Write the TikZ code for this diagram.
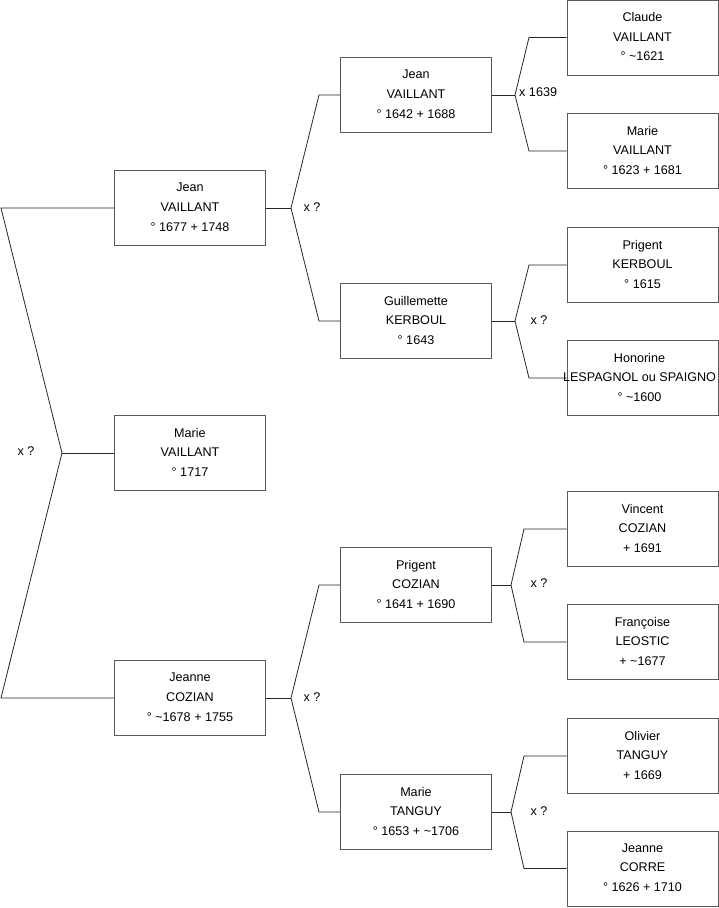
\documentclass[tikz,border=0pt]{standalone}
\usepackage{fontspec}
\setmainfont{Liberation Sans}
\begin{document}
\begin{tikzpicture}[x=1pt,y=-1pt,
  box/.style={draw=black!65, line width=1pt, minimum width=151pt, minimum height=75pt, inner sep=0pt},
  txt/.style={align=center, font=\fontsize{12.6}{19.6}\selectfont, inner sep=0pt},
  link/.style={draw=black!85, line width=0.8pt},
  lab/.style={font=\fontsize{12.6}{15}\selectfont, inner sep=0pt}]
\useasboundingbox (0,0) rectangle (719,908);
\fill[white] (0,0) rectangle (719,908);

% boxes (shapes only)
\node[box] (jean1) at (190,208) {};
\node[box] (marie1) at (190,453) {};
\node[box] (jeanne1) at (190,698) {};
\node[box] (jean2) at (416,95) {};
\node[box] (guil) at (416,321) {};
\node[box] (prigent2) at (416,585) {};
\node[box] (marieT) at (416,812) {};
\node[box] (claude) at (642.5,37.5) {};
\node[box] (marieV) at (642.5,151) {};
\node[box] (prigentK) at (642.5,265) {};
\node[box] (honorine) at (642.5,378) {};
\node[box] (vincent) at (642.5,529) {};
\node[box] (francoise) at (642.5,642) {};
\node[box] (olivier) at (642.5,756) {};
\node[box] (jeanneC) at (642.5,868.5) {};

% junction coordinates
\coordinate (lt) at (1,208);
\coordinate (lm) at (62,453);
\coordinate (lb) at (1,698);
\coordinate (a) at (291,208);
\coordinate (b) at (291,698);
\coordinate (c) at (515,95);
\coordinate (d) at (515,321);
\coordinate (e) at (511,585);
\coordinate (f) at (511,812);

% connectors
\draw[link] (jean1.west) -- (lt) -- (lm) -- (lb) -- (jeanne1.west);
\draw[link] (lm) -- (marie1.west);

\draw[link] (jean1.east) -- (a);
\draw[link] (jean2.west) -- (jean2.west -| 319,0) -- (a) -- (guil.west -| 319,0) -- (guil.west);
\draw[link] (jeanne1.east) -- (b);
\draw[link] (prigent2.west) -- (prigent2.west -| 319,0) -- (b) -- (marieT.west -| 319,0) -- (marieT.west);

\draw[link] (jean2.east) -- (c);
\draw[link] (claude.west) -- (claude.west -| 529,0) -- (c) -- (marieV.west -| 529,0) -- (marieV.west);
\draw[link] (guil.east) -- (d);
\draw[link] (prigentK.west) -- (prigentK.west -| 529,0) -- (d) -- (honorine.west -| 529,0) -- (honorine.west);
\draw[link] (prigent2.east) -- (e);
\draw[link] (vincent.west) -- (vincent.west -| 524,0) -- (e) -- (francoise.west -| 524,0) -- (francoise.west);
\draw[link] (marieT.east) -- (f);
\draw[link] (olivier.west) -- (olivier.west -| 524,0) -- (f) -- (jeanneC.west -| 524,0) -- (jeanneC.west);

% texts
\node[txt] at ([yshift=0.8pt]jean1) {Jean\\VAILLANT\\° 1677 + 1748};
\node[txt] at ([yshift=0.8pt]marie1) {Marie\\VAILLANT\\° 1717};
\node[txt] at ([yshift=0.8pt]jeanne1) {Jeanne\\COZIAN\\° \textasciitilde1678 + 1755};
\node[txt] at ([yshift=0.8pt]jean2) {Jean\\VAILLANT\\° 1642 + 1688};
\node[txt] at ([yshift=0.8pt]guil) {Guillemette\\KERBOUL\\° 1643};
\node[txt] at ([yshift=0.8pt]prigent2) {Prigent\\COZIAN\\° 1641 + 1690};
\node[txt] at ([yshift=0.8pt]marieT) {Marie\\TANGUY\\° 1653 + \textasciitilde1706};
\node[txt] at ([yshift=0.8pt]claude) {Claude\\VAILLANT\\° \textasciitilde1621};
\node[txt] at ([yshift=0.8pt]marieV) {Marie\\VAILLANT\\° 1623 + 1681};
\node[txt] at ([yshift=0.8pt]prigentK) {Prigent\\KERBOUL\\° 1615};
\node[txt] at ([yshift=0.8pt,xshift=-3pt]honorine) {Honorine\\LESPAGNOL ou SPAIGNO\\° \textasciitilde1600};
\node[txt] at ([yshift=0.8pt]vincent) {Vincent\\COZIAN\\+ 1691};
\node[txt] at ([yshift=0.8pt]francoise) {Françoise\\LEOSTIC\\+ \textasciitilde1677};
\node[txt] at ([yshift=0.8pt]olivier) {Olivier\\TANGUY\\+ 1669};
\node[txt] at ([yshift=0.8pt]jeanneC) {Jeanne\\CORRE\\° 1626 + 1710};

% union labels
\node[lab] (u0) at (26,451) {x ?};
\node[lab] (u1) at (312,207) {x ?};
\node[lab] (u2) at (312,697) {x ?};
\node[lab, anchor=west] (u3) at (519,92) {x 1639};
\node[lab] (u4) at (539,320) {x ?};
\node[lab] (u5) at (539,583) {x ?};
\node[lab] (u6) at (539,811) {x ?};
\end{tikzpicture}
\end{document}
